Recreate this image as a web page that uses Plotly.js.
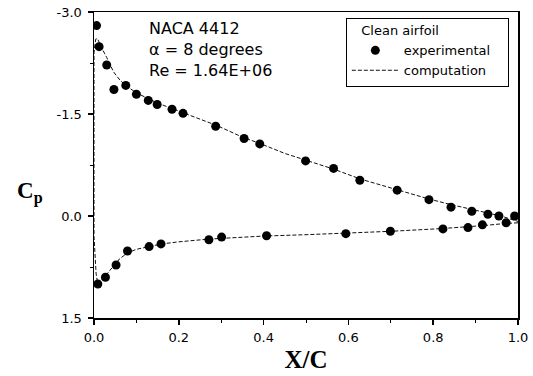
<!DOCTYPE html>
<html>
<head>
<meta charset="utf-8">
<script src="https://cdn.plot.ly/plotly-3.0.1.min.js"></script>
<style>html,body{margin:0;padding:0;background:#fff;}#chart{width:533px;height:376px;}</style>
</head>
<body>
<div id="chart"></div>
<script>
// Experimental data: upper surface then lower surface
const expUpperX = [0.006,0.012,0.030,0.047,0.075,0.100,0.128,0.149,0.184,0.210,0.287,0.354,0.391,0.499,0.565,0.627,0.715,0.790,0.842,0.891,0.929,0.955,0.992];
const expUpperCp = [-2.80,-2.49,-2.22,-1.86,-1.92,-1.79,-1.70,-1.64,-1.57,-1.51,-1.32,-1.14,-1.06,-0.81,-0.70,-0.525,-0.38,-0.24,-0.13,-0.07,-0.025,0.00,0.00];
const expLowerX = [0.009,0.027,0.052,0.079,0.130,0.158,0.271,0.301,0.407,0.594,0.699,0.823,0.882,0.916,0.972];
const expLowerCp = [1.00,0.90,0.72,0.515,0.45,0.41,0.35,0.31,0.29,0.26,0.225,0.19,0.17,0.13,0.10];

// Computation: from trailing edge along lower surface to leading edge, then upper surface
const compLowerX = [1.000,0.970,0.920,0.880,0.820,0.700,0.600,0.500,0.400,0.300,0.270,0.200,0.160,0.130,0.100,0.080,0.060,0.050,0.040,0.027,0.015,0.009,0.005,0.002,0.000];
const compLowerCp = [0.10,0.11,0.14,0.16,0.185,0.225,0.255,0.275,0.295,0.325,0.34,0.38,0.41,0.45,0.49,0.54,0.63,0.72,0.78,0.88,0.96,1.00,0.85,0.45,0.30];
const compUpperX = [0.000,0.004,0.008,0.014,0.020,0.030,0.046,0.061,0.075,0.100,0.128,0.150,0.184,0.210,0.250,0.290,0.350,0.390,0.450,0.500,0.565,0.630,0.715,0.790,0.840,0.890,0.930,0.960,1.000];
const compUpperCp = [-2.40,-2.60,-2.61,-2.52,-2.45,-2.33,-2.12,-2.00,-1.92,-1.81,-1.72,-1.66,-1.58,-1.52,-1.43,-1.33,-1.16,-1.07,-0.92,-0.82,-0.69,-0.54,-0.38,-0.25,-0.17,-0.10,-0.04,0.00,0.08];

const xTicks = [0.0,0.2,0.4,0.6,0.8,1.0];
const xTickText = ['0.0','0.2','0.4','0.6','0.8','1.0'];
const yTicks = [-3.0,-1.5,0.0,1.5];
const yTickText = ['-3.0','-1.5','0.0','1.5'];

const sans = 'DejaVu Sans, Arial, sans-serif';
const serif = 'Liberation Serif, Times New Roman, serif';
const tickFont = {family:sans, size:13, color:'#000'};

const traces = [
  {
    x: compLowerX.concat(compUpperX),
    y: compLowerCp.concat(compUpperCp),
    mode:'lines', name:'computation', legendrank:2,
    line:{color:'#111', width:1, dash:'4px,2px'},
    hoverinfo:'skip'
  },
  {
    x: expUpperX.concat(expLowerX),
    y: expUpperCp.concat(expLowerCp),
    mode:'markers', name:'experimental', legendrank:1,
    marker:{color:'#000', size:9, symbol:'circle'}
  }
];

const layout = {
  width:533, height:376,
  margin:{l:94, r:14.5, t:11.7, b:58.3},
  paper_bgcolor:'#fff', plot_bgcolor:'#fff',
  showlegend:true,
  legend:{
    x:0.594, y:0.982, xanchor:'left', yanchor:'top',
    bordercolor:'#000', borderwidth:1, bgcolor:'#fff',
    font:{family:sans, size:13, color:'#000'},
    title:{text:'\u00a0\u00a0\u00a0Clean airfoil\u00a0\u00a0\u00a0\u00a0\u00a0\u00a0\u00a0\u00a0\u00a0\u00a0\u00a0\u00a0\u00a0\u00a0\u00a0\u00a0', font:{family:sans, size:13, color:'#000'}},
    itemwidth:47, tracegroupgap:0
  },
  xaxis:{
    range:[0,1], tickvals:xTicks, ticktext:xTickText,
    ticks:'outside', ticklen:5, tickwidth:1.5, tickcolor:'#000',
    minor:{dtick:0.1, ticks:'outside', ticklen:3, tickcolor:'#000', tickwidth:1},
    showline:true, linecolor:'#000', linewidth:1.5, mirror:true,
    showgrid:false, zeroline:false, tickfont:tickFont, ticklabelstandoff:2,
    title:{text:'<b>X/C</b>', font:{family:serif, size:25, color:'#000'}, standoff:6}
  },
  yaxis:{
    range:[1.5,-3.0], tickvals:yTicks, ticktext:yTickText,
    ticks:'outside', ticklen:5, tickwidth:1.5, tickcolor:'#000',
    minor:{tickvals:[-2.25,-0.75,0.75], ticks:'outside', ticklen:3, tickcolor:'#000', tickwidth:1},
    showline:true, linecolor:'#000', linewidth:1.5, mirror:true,
    showgrid:false, zeroline:false, tickfont:tickFont, ticklabelstandoff:3
  },
  annotations:[
    {xref:'paper', yref:'paper', x:-0.152, y:0.41, xanchor:'center', yanchor:'middle', showarrow:false,
     text:'<b>C<sub>p</sub></b>', font:{family:serif, size:23, color:'#000'}},
    {xref:'paper', yref:'paper', x:0.125, y:0.877, xanchor:'left', yanchor:'middle', showarrow:false, align:'left',
     text:'NACA 4412<br>\u03b1 = 8 degrees<br>Re = 1.64E+06', font:{family:sans, size:16, color:'#000'}}
  ]
};

Plotly.newPlot('chart', traces, layout, {displayModeBar:false, staticPlot:true});
</script>
</body>
</html>
